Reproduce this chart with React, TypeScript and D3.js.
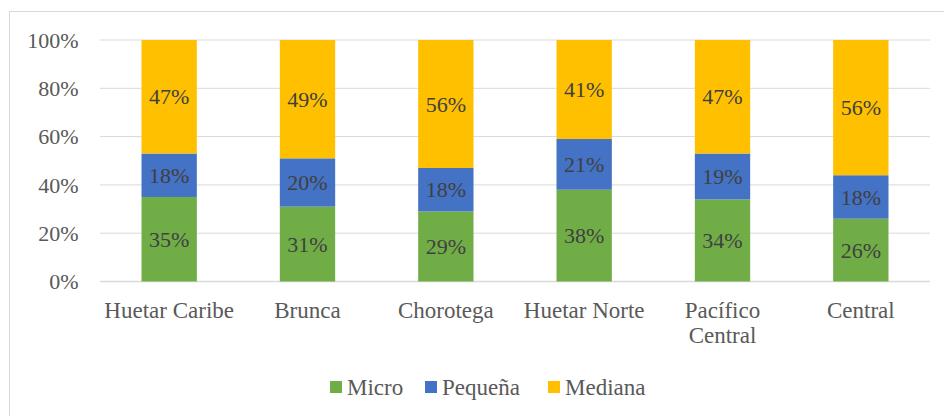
import React from "react";
import * as d3 from "d3";

const categories = ["Huetar Caribe", "Brunca", "Chorotega", "Huetar Norte", "Pacífico Central", "Central"];
const categoryLines = [["Huetar Caribe"], ["Brunca"], ["Chorotega"], ["Huetar Norte"], ["Pacífico", "Central"], ["Central"]];
const micro = [35, 31, 29, 38, 34, 26];
const pequena = [18, 20, 18, 21, 19, 18];
const mediana = [47, 49, 53, 41, 47, 56];
const medianaLabels = ["47%", "49%", "56%", "41%", "47%", "56%"];
const seriesNames = ["Micro", "Pequeña", "Mediana"];
const seriesColors = ["#70AD47", "#4472C4", "#FFC000"];
const yTicks = [0, 20, 40, 60, 80, 100];

const W = 944;
const H = 416;
const FONT = "Liberation Serif, DejaVu Serif, Times New Roman, serif";

export default function App() {
  const x = d3.scaleBand<string>().domain(categories).range([100, 930]).paddingInner(0.6).paddingOuter(0.3);
  const y = d3.scaleLinear().domain([0, 100]).range([281.5, 40]);

  const rows = categories.map((c, i) => ({ cat: c, Micro: micro[i], "Pequeña": pequena[i], Mediana: mediana[i] }));
  const stack = d3.stack<any>().keys(seriesNames);
  const stacked = stack(rows);

  const labelFor = (si: number, i: number) => {
    if (si === 0) return `${micro[i]}%`;
    if (si === 1) return `${pequena[i]}%`;
    return medianaLabels[i];
  };

  const legendX = [330, 425, 548];
  const ts: React.CSSProperties = { fontFamily: FONT };

  return (
    <svg width={W} height={H} style={{ position: "absolute", left: 0, top: 0, background: "#fff", fontFamily: FONT }}>
      <rect x={9.5} y={11.5} width={W} height={H} fill="#fff" stroke="#D9D9D9" strokeWidth={1} />
      {yTicks.map((t) => (
        <g key={t}>
          <line x1={100} x2={930} y1={y(t)} y2={y(t)} stroke="#D9D9D9" strokeWidth={t === 0 ? 1.5 : 1} />
          <text x={78.5} y={y(t)} dy="0.35em" textAnchor="end" fontSize={22} fill="#595959" style={ts}>
            {`${t}%`}
          </text>
        </g>
      ))}
      {stacked.map((layer, si) => (
        <g key={seriesNames[si]}>
          {layer.map((d, i) => {
            const x0 = x(categories[i])!;
            const y0 = y(d[1]);
            const h = y(d[0]) - y(d[1]);
            return (
              <g key={i}>
                <rect x={x0} y={y0} width={x.bandwidth()} height={h} fill={seriesColors[si]} />
                <text
                  x={x0 + x.bandwidth() / 2}
                  y={y0 + h / 2}
                  dy="0.35em"
                  textAnchor="middle"
                  fontSize={22}
                  fill="#404040"
                  style={ts}
                >
                  {labelFor(si, i)}
                </text>
              </g>
            );
          })}
        </g>
      ))}
      {categories.map((c, i) => (
        <text key={c} textAnchor="middle" fontSize={23} fill="#595959" style={ts}>
          {categoryLines[i].map((ln, li) => (
            <tspan key={li} x={x(c)! + x.bandwidth() / 2} y={318 + li * 25}>
              {ln}
            </tspan>
          ))}
        </text>
      ))}
      {seriesNames.map((s, si) => (
        <g key={s}>
          <rect x={legendX[si]} y={381} width={12} height={12} fill={seriesColors[si]} />
          <text x={legendX[si] + 17} y={395} fontSize={23} fill="#595959" style={ts}>
            {s}
          </text>
        </g>
      ))}
    </svg>
  );
}
